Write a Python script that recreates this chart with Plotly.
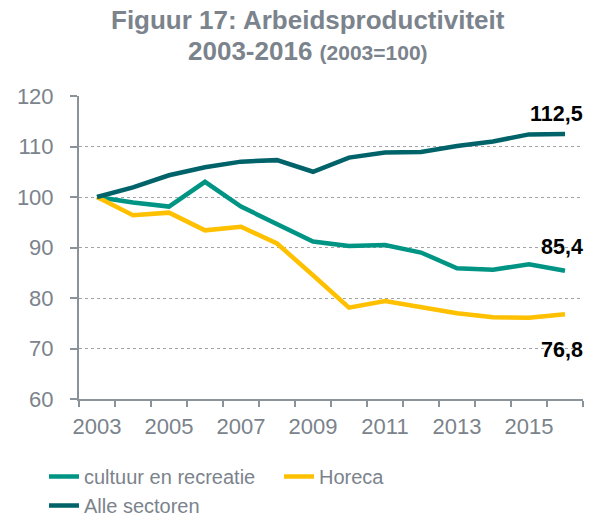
import plotly.graph_objects as go

years = list(range(2003, 2017))
cultuur = [100, 98.9, 98.1, 103.0, 98.1, 94.7, 91.2, 90.3, 90.5, 89.0, 85.9, 85.6, 86.7, 85.4]
horeca = [100, 96.4, 96.9, 93.4, 94.1, 90.8, 84.5, 78.1, 79.4, 78.3, 77.0, 76.2, 76.1, 76.8]
alle = [100, 101.9, 104.3, 105.9, 107.0, 107.3, 105.0, 107.8, 108.8, 108.9, 110.1, 111.0, 112.4, 112.5]
end_labels = ["85,4", "76,8", "112,5"]

series_names = ["cultuur en recreatie", "Horeca", "Alle sectoren"]
colors = ["#009485", "#FFC000", "#00636A"]
FONT = "Liberation Sans, Arial, sans-serif"
GRAY = "#7B838C"

fig = go.Figure()
for name, vals, col in zip(series_names, [cultuur, horeca, alle], colors):
    fig.add_trace(go.Scatter(x=years, y=vals, name=name, mode="lines",
                             line=dict(color=col, width=4.5)))

# end value labels
label_shifts = [24, -36, 20]
for vals, txt, dy in zip([cultuur, horeca, alle], end_labels, label_shifts):
    fig.add_annotation(x=years[-1], y=vals[-1], text=f"<b>{txt}</b>", showarrow=False,
                       xanchor="right", yanchor="middle", xshift=20, yshift=dy,
                       font=dict(family=FONT, size=21.5, color="black"))

fig.add_annotation(text="<b>Figuur 17: Arbeidsproductiviteit</b>", xref="paper", yref="paper",
                   x=(308 - 79) / 504, y=(399 - 20) / 303, xanchor="center", yanchor="middle",
                   showarrow=False, font=dict(family=FONT, size=26, color=GRAY))
fig.add_annotation(text="<b>2003-2016 <span style='font-size:21px'>(2003=100)</span></b>",
                   xref="paper", yref="paper",
                   x=(308 - 79) / 504, y=(399 - 51) / 303, xanchor="center", yanchor="middle",
                   showarrow=False, font=dict(family=FONT, size=26, color=GRAY))

fig.update_layout(
    width=590, height=516,
    margin=dict(l=79, r=7, t=96, b=117, autoexpand=False),
    paper_bgcolor="white", plot_bgcolor="white",
    font=dict(family=FONT, color=GRAY, size=20),
    showlegend=True,
    legend=dict(orientation="h", x=(44 - 79) / 504, y=(399 - 457) / 303,
                xanchor="left", yanchor="top", entrywidth=190,
                font=dict(family=FONT, size=20, color=GRAY), tracegroupgap=0),
    xaxis=dict(range=[2002.5, 2016.5], tickvals=[2003, 2005, 2007, 2009, 2011, 2013, 2015],
               ticks="outside", ticklen=7, tickcolor="rgba(0,0,0,0)", automargin=False,
               showgrid=False, showline=True, linecolor="#8A929A", linewidth=2,
               zeroline=False, tickfont=dict(family=FONT, size=22, color=GRAY),
               minor=dict(tickvals=[2002.5 + i for i in range(15)], ticks="outside",
                          ticklen=6, tickcolor="#8A929A", tickwidth=1.5, showgrid=False)),
    yaxis=dict(range=[60, 120], dtick=10, ticks="outside", ticklen=7, tickcolor="#8A929A",
               tickwidth=2, showline=True, linecolor="#8A929A", linewidth=2, automargin=False,
               ticklabelstandoff=12,
               showgrid=True, gridcolor="#A0A4A8", griddash="dot", gridwidth=1,
               zeroline=False, tickfont=dict(family=FONT, size=22, color=GRAY)),
)

fig.write_html("out.html", config={"displayModeBar": False},
               post_script="document.body.style.margin='0';document.body.style.overflow='hidden';")
